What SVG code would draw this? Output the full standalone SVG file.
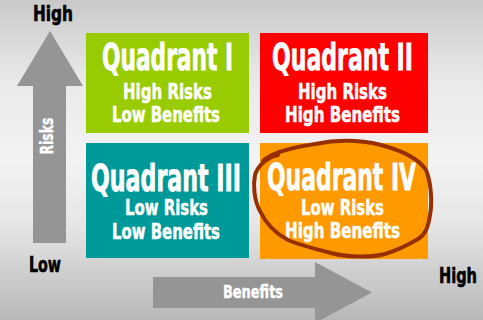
<svg xmlns="http://www.w3.org/2000/svg" width="483" height="320" viewBox="0 0 483 320">
<defs>
<linearGradient id="bg" x1="0" y1="0" x2="0" y2="1">
<stop offset="0" stop-color="#c9c9c9"/>
<stop offset="0.25" stop-color="#e9e9e9"/>
<stop offset="0.5" stop-color="#f3f3f3"/>
<stop offset="0.7" stop-color="#e6e6e6"/>
<stop offset="1" stop-color="#b8b8b8"/>
</linearGradient>
<style>
text{font-family:"Liberation Sans Narrow","DejaVu Sans Condensed","Liberation Sans",sans-serif;font-weight:bold;text-anchor:middle}
.t{fill:#fff;stroke:#fff;stroke-width:0.8px;font-size:38px}
.s{fill:#fff;stroke:#fff;stroke-width:0.5px;font-size:21px}
.ax{fill:#000;stroke:#000;stroke-width:0.6px;font-size:21px}
.arrow{fill:#959595}
.al{fill:#fff;stroke:#fff;stroke-width:0.4px;font-size:18px}
</style>
</defs>
<rect width="483" height="320" fill="url(#bg)"/>
<g id="risk-axis">
<polygon class="arrow" points="50,31 83,86 66,86 66,243 33,243 33,86 17,86"/>
<text class="al" transform="translate(53,136) rotate(-90)" textLength="37" lengthAdjust="spacingAndGlyphs">Risks</text>
</g>
<g id="benefit-axis">
<polygon class="arrow" points="153,277 315,277 315,262 372,292.5 315,323 315,308 153,308"/>
<text class="al" x="253" y="298" textLength="60" lengthAdjust="spacingAndGlyphs">Benefits</text>
</g>
<g id="label-high-top"><text class="ax" x="53" y="21" textLength="40" lengthAdjust="spacingAndGlyphs">High</text></g>
<g id="label-low"><text class="ax" x="45" y="272" textLength="32" lengthAdjust="spacingAndGlyphs">Low</text></g>
<g id="label-high-right"><text class="ax" x="458" y="283" textLength="38" lengthAdjust="spacingAndGlyphs">High</text></g>
<g id="q1">
<rect x="86" y="33" width="163" height="100" fill="#99cc00"/>
<text class="t" x="167.5" y="70" textLength="131" lengthAdjust="spacingAndGlyphs">Quadrant I</text>
<text class="s" x="167.5" y="99" textLength="89" lengthAdjust="spacingAndGlyphs">High Risks</text>
<text class="s" x="166" y="122" textLength="108" lengthAdjust="spacingAndGlyphs">Low Benefits</text>
</g>
<g id="q2">
<rect x="260" y="33" width="168" height="100" fill="#ff0000"/>
<text class="t" x="342.5" y="70" textLength="141" lengthAdjust="spacingAndGlyphs">Quadrant II</text>
<text class="s" x="342.5" y="99" textLength="89" lengthAdjust="spacingAndGlyphs">High Risks</text>
<text class="s" x="342.5" y="122" textLength="115" lengthAdjust="spacingAndGlyphs">High Benefits</text>
</g>
<g id="q3">
<rect x="86" y="143" width="163" height="115" fill="#009999"/>
<text class="t" x="166" y="191" textLength="150" lengthAdjust="spacingAndGlyphs">Quadrant III</text>
<text class="s" x="166.5" y="215" textLength="83" lengthAdjust="spacingAndGlyphs">Low Risks</text>
<text class="s" x="166" y="239" textLength="108" lengthAdjust="spacingAndGlyphs">Low Benefits</text>
</g>
<g id="q4">
<rect x="260" y="143" width="168" height="116" fill="#ff9900"/>
<text class="t" x="341.5" y="190" textLength="149" lengthAdjust="spacingAndGlyphs">Quadrant IV</text>
<text class="s" x="342.5" y="215" textLength="83" lengthAdjust="spacingAndGlyphs">Low Risks</text>
<text class="s" x="342.5" y="238" textLength="115" lengthAdjust="spacingAndGlyphs">High Benefits</text>
</g>
<g id="connectors">
<path d="M263,161 C272,152 295,147 315,144 C335,140 360,140 381,145 C400,150 418,158 426,170 C432,185 432,205 430,215 C428,228 425,235 418,239 C408,245 398,250 385,254 C370,258 345,257 331,253 C315,249 300,245 288,240 C275,233 265,222 260,211 C254,200 253,185 255,175 C258,165 268,157 278,155" fill="none" stroke="#963000" stroke-width="4" stroke-linecap="round" stroke-linejoin="round"/>
</g>
</svg>
